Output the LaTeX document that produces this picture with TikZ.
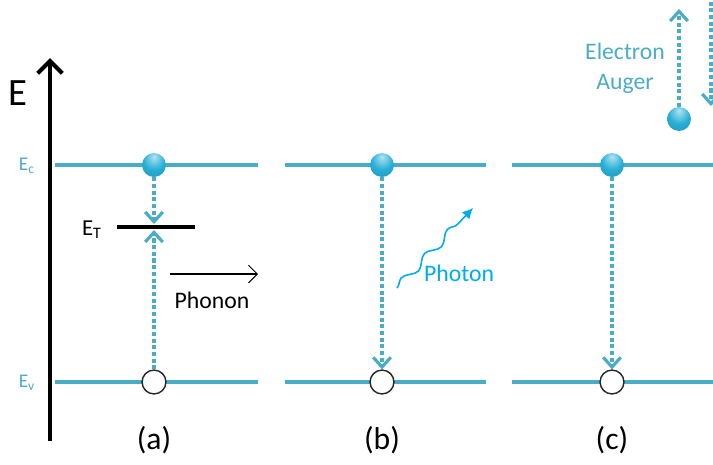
\documentclass[tikz,border=0pt]{standalone}
\usepackage{fontspec}
\setmainfont{Carlito}
\usetikzlibrary{arrows.meta,decorations.pathmorphing}
\definecolor{bandTeal}{RGB}{75,172,198}
\definecolor{ballTeal}{RGB}{40,175,215}
\definecolor{photonBlue}{RGB}{0,172,236}
\pgfdeclareradialshading{elecball}{\pgfpoint{0bp}{18bp}}{%
  color(0bp)=(ballTeal!35!white); color(22bp)=(ballTeal);
  color(48bp)=(ballTeal!80!black); color(70bp)=(ballTeal!65!black)}

\begin{document}
\begin{tikzpicture}[x=0.02cm, y=-0.02cm,
    band/.style={draw=bandTeal, line width=2pt},
    elec/.style={circle, minimum size=13.6pt, inner sep=0pt, shading=elecball},
    hole/.style={circle, minimum size=13.6pt, inner sep=0pt, draw=black!85, fill=white, line width=0.8pt},
    hop/.style={draw=bandTeal, line width=2.4pt, dash pattern=on 2.3pt off 1.5pt,
                -{Straight Barb[length=5.5pt,width=10pt,line width=1.8pt]}},
    lvl/.style={text=bandTeal, font=\fontsize{11}{13}\selectfont},
    tag/.style={font=\fontsize{18}{20}\selectfont}
  ]
  \useasboundingbox (0,0) rectangle (713,464);
  \clip (0,0) rectangle (713,464);

  % energy axis
  \coordinate (axB) at (50,441);
  \coordinate (axT) at (50,58);
  \draw[line width=2.8pt, -{Straight Barb[length=7pt,width=14pt,line width=2.4pt]}] (axB) -- (axT);
  \node[font=\fontsize{22}{24}\selectfont] (eLbl) at (18,93) {E};
  \node[lvl] (ecLbl) at (27,166) {E\textsubscript{c}};
  \node[lvl] (evLbl) at (27,383) {E\textsubscript{v}};

  % bands
  \foreach \xa/\xb in {55/258, 285/486, 512/720}{
    \draw[band] (\xa,165) -- (\xb,165);
    \draw[band] (\xa,382) -- (\xb,382);
  }

  % (a) trap
  \coordinate (etL) at (117,227);
  \coordinate (etR) at (195,227);
  \draw[line width=2pt] (etL) -- (etR);
  \node[font=\fontsize{13}{15}\selectfont] (etLbl) at (92,230) {E\textsubscript{T}};
  \coordinate (etTop) at (154,224);
  \coordinate (etBot) at (154,230);
  \node[elec] (ea) at (154,165) {};
  \node[hole] (ha) at (154,382) {};
  \draw[hop] (ea.south) -- (etTop);
  \draw[hop] (ha.north) -- (etBot);
  \coordinate (phL) at (170,274);
  \coordinate (phR) at (258,274);
  \draw[line width=0.6pt, -{Straight Barb[length=5pt,width=10pt]}] (phL) -- (phR);
  \node[font=\fontsize{13.5}{15}\selectfont] (phonon) at (212,300) {Phonon};

  % (b) radiative
  \node[elec] (eb) at (382,165) {};
  \node[hole] (hb) at (382,382) {};
  \draw[hop] (eb.south) -- (hb.north);
  \coordinate (pw1) at (397,288);
  \coordinate (pw2) at (473,208);
  \draw[photonBlue, line width=0.9pt, decorate,
        decoration={snake, amplitude=2.2pt, segment length=19pt, post length=5pt},
        -{Latex[length=6pt,width=6pt]}] (pw1) -- (pw2);
  \node[text=photonBlue, font=\fontsize{13.5}{15}\selectfont] (photon) at (459,273) {Photon};

  % (c) Auger
  \node[elec] (ec) at (612,165) {};
  \node[hole] (hc) at (612,382) {};
  \draw[hop] (ec.south) -- (hc.north);
  \node[elec] (eau) at (679,119) {};
  \coordinate (auTop) at (679,9);
  \draw[hop] (eau.north) -- (auTop);
  \coordinate (auIn) at (711,-5);
  \coordinate (auEnd) at (711,106);
  \draw[hop] (auIn) -- (auEnd);
  \node[text=bandTeal, align=center, font=\fontsize{13.5}{17}\selectfont] (auger) at (625,68) {Electron\\Auger};

  % labels
  \node[tag] (la) at (154,440) {(a)};
  \node[tag] (lb) at (382,440) {(b)};
  \node[tag] (lc) at (612,440) {(c)};
\end{tikzpicture}
\end{document}
